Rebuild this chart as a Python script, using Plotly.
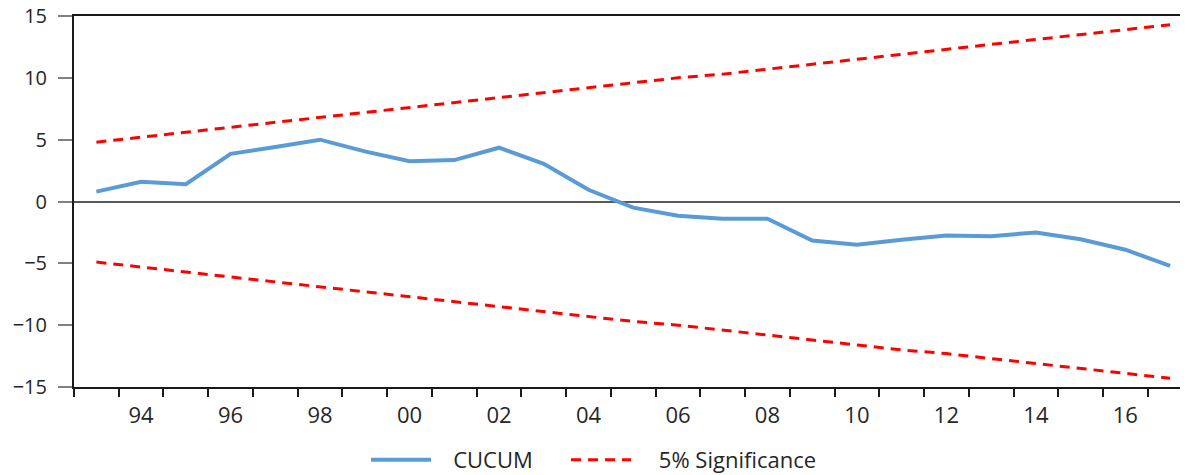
import plotly.graph_objects as go

years = list(range(1993, 2018))
cusum = [0.8, 1.6, 1.4, 3.85, 4.4, 5.0, 4.05, 3.25, 3.35, 4.35, 3.05, 0.95,
         -0.5, -1.15, -1.4, -1.4, -3.15, -3.5, -3.1, -2.75, -2.8, -2.5, -3.05, -3.9, -5.2]
upper = [4.8, 5.2, 5.6, 6.0, 6.4, 6.8, 7.2, 7.6, 8.0, 8.4, 8.8, 9.2, 9.6,
         10.0, 10.3, 10.7, 11.1, 11.5, 11.9, 12.3, 12.7, 13.1, 13.5, 13.9, 14.3]
lower = [-4.9, -5.3, -5.7, -6.1, -6.5, -6.9, -7.3, -7.7, -8.1, -8.5, -8.9, -9.3, -9.7,
         -10.0, -10.4, -10.8, -11.2, -11.6, -12.0, -12.3, -12.7, -13.1, -13.5, -13.9, -14.3]
label_years = [1994, 1996, 1998, 2000, 2002, 2004, 2006, 2008, 2010, 2012, 2014, 2016]
label_text = ["94", "96", "98", "00", "02", "04", "06", "08", "10", "12", "14", "16"]
y_ticks = [-15, -10, -5, 0, 5, 10, 15]

FONT = "Open Sans"
TXT = "#262626"
NB = "\u00a0"

# page has an 8px body margin; figure sized to fill the 1188x475 window
W, H = 1180, 467
L, T, B = 66, 8, 88
PW = W - L
PH = H - T - B

def px_x(p):
    return (p - 8 - L) / PW

def px_y(p):
    return -((p - 8) - (T + PH)) / PH

fig = go.Figure()
fig.add_trace(go.Scatter(x=years, y=cusum, mode="lines", name=NB * 3 + "CUCUM",
                         legend="legend",
                         line=dict(color="#5B9BD5", width=4)))
fig.add_trace(go.Scatter(x=years, y=upper, mode="lines", name=NB * 4 + "5% Significance",
                         legend="legend2",
                         line=dict(color="#FF0000", width=3, dash="10px,7px")))
fig.add_trace(go.Scatter(x=years, y=lower, mode="lines", name="5% Significance",
                         showlegend=False, legend="legend2",
                         line=dict(color="#FF0000", width=3, dash="10px,7px")))

leg_common = dict(orientation="h", xanchor="left", yanchor="middle",
                  y=px_y(460), font=dict(family=FONT, size=22, color=TXT),
                  itemwidth=60, bgcolor="rgba(0,0,0,0)")

fig.update_layout(
    width=W, height=H,
    margin=dict(l=L, r=0, t=T, b=B, autoexpand=False),
    paper_bgcolor="white", plot_bgcolor="white",
    font=dict(family=FONT, color=TXT, size=20),
    showlegend=True,
    legend=dict(x=px_x(372 - 6), **leg_common),
    legend2=dict(x=px_x(572 - 6), **leg_common),
)

fig.update_xaxes(
    range=[1992.5, 2017.4],
    tickmode="array", tickvals=label_years, ticktext=label_text,
    ticks="", showgrid=False, zeroline=False,
    showline=True, linecolor="#1a1a1a", linewidth=2, mirror=True,
    tickfont=dict(family=FONT, size=22, color=TXT),
    ticklabelstandoff=8,
    minor=dict(tickmode="array", tickvals=[y - 0.5 for y in years] + [2017.5],
               ticks="outside", ticklen=8, tickwidth=1.5, tickcolor="#1a1a1a",
               showgrid=False),
)
fig.update_yaxes(
    range=[-15, 15],
    tickmode="array", tickvals=y_ticks,
    ticks="outside", ticklen=14, tickwidth=1.5, tickcolor="#808080",
    showgrid=False,
    zeroline=True, zerolinecolor="#595959", zerolinewidth=1.5,
    showline=True, linecolor="#1a1a1a", linewidth=2, mirror=False,
    tickfont=dict(family=FONT, size=20, color=TXT),
    ticklabelstandoff=7, ticklabeloverflow="allow",
)

fig.write_html("out.html")
